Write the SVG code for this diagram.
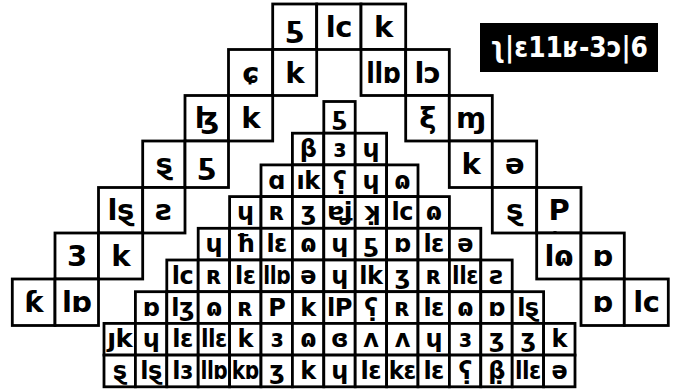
<svg xmlns="http://www.w3.org/2000/svg" width="684" height="391" viewBox="0 0 684 391">
<style>
.c{fill:#fff;stroke:#000;stroke-width:2.8}
.t{font-family:"DejaVu Sans",sans-serif;font-weight:bold;fill:#000;text-anchor:middle;dominant-baseline:central;letter-spacing:-0.5px}
.ttl{font-family:"DejaVu Sans",sans-serif;font-weight:bold;fill:#fff;dominant-baseline:central}
</style>
<rect width="684" height="391" fill="#fff"/>
<g id="title" font-size="28"><rect x="480" y="23" width="178" height="49" fill="#000"/><text class="ttl" x="490" y="47" textLength="158" lengthAdjust="spacingAndGlyphs">ʅ|ɛ11ʁ-3ɔ|6</text></g>
<g id="outer" font-size="29">
<g id="o0a"><rect class="c" x="272.7" y="4" width="44" height="45.5"/><text class="t" x="294.7" y="26.75">ƽ</text></g>
<g id="o0b"><rect class="c" x="316.7" y="4" width="44.3" height="45.5"/><text class="t" x="338.85" y="26.75">lc</text></g>
<g id="o0c"><rect class="c" x="361" y="4" width="44.7" height="45.5"/><text class="t" x="383.35" y="26.75">k</text></g>
<g id="o1a"><rect class="c" x="228.5" y="49.5" width="44.2" height="46"/><text class="t" x="250.6" y="72.5">ɕ</text></g>
<g id="o1b"><rect class="c" x="272.7" y="49.5" width="44" height="46"/><text class="t" x="294.7" y="72.5">k</text></g>
<g id="o1c"><rect class="c" x="361" y="49.5" width="44.7" height="46"/><text class="t" x="383.35" y="72.5" textLength="34" lengthAdjust="spacingAndGlyphs">llɒ</text></g>
<g id="o1d"><rect class="c" x="405.7" y="49.5" width="43.6" height="46"/><text class="t" x="427.5" y="72.5">lɔ</text></g>
<g id="o2a"><rect class="c" x="185" y="95.5" width="43.5" height="45.5"/><text class="t" x="206.75" y="118.25">ɮ</text></g>
<g id="o2b"><rect class="c" x="228.5" y="95.5" width="44.2" height="45.5"/><text class="t" x="250.6" y="118.25">k</text></g>
<g id="o2c"><rect class="c" x="405.7" y="95.5" width="43.6" height="45.5"/><text class="t" x="427.5" y="118.25">ξ</text></g>
<g id="o2d"><rect class="c" x="449.3" y="95.5" width="43" height="45.5"/><text class="t" x="470.8" y="118.25">ɱ</text></g>
<g id="o3a"><rect class="c" x="142.7" y="141" width="42.3" height="46.5"/><text class="t" x="163.85" y="164.25">ȿ</text></g>
<g id="o3b"><rect class="c" x="185" y="141" width="43.5" height="46.5"/><text class="t" x="206.75" y="164.25">ƽ</text></g>
<g id="o3c"><rect class="c" x="449.3" y="141" width="43" height="46.5"/><text class="t" x="470.8" y="164.25">k</text></g>
<g id="o3d"><rect class="c" x="492.3" y="141" width="44.4" height="46.5"/><text class="t" x="514.5" y="164.25">ə</text></g>
<g id="o4a"><rect class="c" x="98.5" y="187.5" width="44.2" height="45.5"/><text class="t" x="120.6" y="210.25">lȿ</text></g>
<g id="o4b"><rect class="c" x="142.7" y="187.5" width="42.3" height="45.5"/><text class="t" x="163.85" y="210.25">ƨ</text></g>
<g id="o4c"><rect class="c" x="492.3" y="187.5" width="44.4" height="45.5"/><text class="t" x="514.5" y="210.25">ȿ</text></g>
<g id="o4d"><rect class="c" x="536.7" y="187.5" width="44.3" height="45.5"/><text class="t" x="558.85" y="210.25">P</text><circle cx="555" cy="233.5" r="2.6" fill="#000"/></g>
<g id="o5a"><rect class="c" x="55" y="233" width="43.5" height="46"/><text class="t" x="76.75" y="256">3</text></g>
<g id="o5b"><rect class="c" x="98.5" y="233" width="44.2" height="46"/><text class="t" x="120.6" y="256">k</text></g>
<g id="o5c"><rect class="c" x="536.7" y="233" width="44.3" height="46"/><text class="t" x="558.85" y="256">lɷ</text></g>
<g id="o5d"><rect class="c" x="581" y="233" width="43.3" height="46"/><text class="t" x="602.65" y="256">ɒ</text></g>
<g id="o6a"><rect class="c" x="12.3" y="279" width="42.7" height="46.5"/><text class="t" x="33.65" y="302.25">ƙ</text></g>
<g id="o6b"><rect class="c" x="55" y="279" width="43.5" height="46.5"/><text class="t" x="76.75" y="302.25">lɒ</text></g>
<g id="o6c"><rect class="c" x="581" y="279" width="43.3" height="46.5"/><text class="t" x="602.65" y="302.25">ɒ</text></g>
<g id="o6d"><rect class="c" x="624.3" y="279" width="44" height="46.5"/><text class="t" x="646.3" y="302.25">lc</text></g>
</g>
<g id="inner" font-size="24">
<g id="r0c7"><rect class="c" x="323.8" y="101.5" width="31.4" height="31.7"/><text class="t" x="339.5" y="117.35">ƽ</text></g>
<g id="r1c6"><rect class="c" x="292.4" y="133.2" width="31.4" height="31.7"/><text class="t" x="308.1" y="149.05">β</text></g>
<g id="r1c7"><rect class="c" x="323.8" y="133.2" width="31.4" height="31.7"/><text class="t" x="339.5" y="149.05">ɜ</text></g>
<g id="r1c8"><rect class="c" x="355.2" y="133.2" width="31.4" height="31.7"/><text class="t" x="370.9" y="149.05">ɥ</text></g>
<g id="r2c5"><rect class="c" x="261" y="164.9" width="31.4" height="31.7"/><text class="t" x="276.7" y="180.75">ɑ</text></g>
<g id="r2c6"><rect class="c" x="292.4" y="164.9" width="31.4" height="31.7"/><text class="t" x="308.1" y="180.75">ık</text></g>
<g id="r2c7"><rect class="c" x="323.8" y="164.9" width="31.4" height="31.7"/><text class="t" x="339.5" y="180.75">ʕ̣</text></g>
<g id="r2c8"><rect class="c" x="355.2" y="164.9" width="31.4" height="31.7"/><text class="t" x="370.9" y="180.75">ɥ</text></g>
<g id="r2c9"><rect class="c" x="386.6" y="164.9" width="31.4" height="31.7"/><text class="t" x="402.3" y="180.75">ɷ</text></g>
<g id="r3c4"><rect class="c" x="229.6" y="196.6" width="31.4" height="31.7"/><text class="t" x="245.3" y="212.45">ɥ</text></g>
<g id="r3c5"><rect class="c" x="261" y="196.6" width="31.4" height="31.7"/><text class="t" x="276.7" y="212.45">ʀ</text></g>
<g id="r3c6"><rect class="c" x="292.4" y="196.6" width="31.4" height="31.7"/><text class="t" x="308.1" y="212.45">ʒ</text></g>
<g id="r3c7"><rect class="c" x="323.8" y="196.6" width="31.4" height="31.7"/><text class="t" x="339.5" y="212.45" textLength="25" lengthAdjust="spacingAndGlyphs">ɐʝ</text></g>
<g id="r3c8"><rect class="c" x="355.2" y="196.6" width="31.4" height="31.7"/><text class="t" x="370.9" y="212.45">ʞ̣</text></g>
<g id="r3c9"><rect class="c" x="386.6" y="196.6" width="31.4" height="31.7"/><text class="t" x="402.3" y="212.45">lc</text></g>
<g id="r3c10"><rect class="c" x="418" y="196.6" width="31.4" height="31.7"/><text class="t" x="433.7" y="212.45">ɷ</text></g>
<g id="r4c3"><rect class="c" x="198.2" y="228.3" width="31.4" height="31.7"/><text class="t" x="213.9" y="244.15">ɥ</text></g>
<g id="r4c4"><rect class="c" x="229.6" y="228.3" width="31.4" height="31.7"/><text class="t" x="245.3" y="244.15">ħ</text></g>
<g id="r4c5"><rect class="c" x="261" y="228.3" width="31.4" height="31.7"/><text class="t" x="276.7" y="244.15">lɛ</text></g>
<g id="r4c6"><rect class="c" x="292.4" y="228.3" width="31.4" height="31.7"/><text class="t" x="308.1" y="244.15">ɷ</text></g>
<g id="r4c7"><rect class="c" x="323.8" y="228.3" width="31.4" height="31.7"/><text class="t" x="339.5" y="244.15">ɥ</text></g>
<g id="r4c8"><rect class="c" x="355.2" y="228.3" width="31.4" height="31.7"/><text class="t" x="370.9" y="244.15">ƽ</text></g>
<g id="r4c9"><rect class="c" x="386.6" y="228.3" width="31.4" height="31.7"/><text class="t" x="402.3" y="244.15">ɒ</text></g>
<g id="r4c10"><rect class="c" x="418" y="228.3" width="31.4" height="31.7"/><text class="t" x="433.7" y="244.15">lɛ</text></g>
<g id="r4c11"><rect class="c" x="449.4" y="228.3" width="31.4" height="31.7"/><text class="t" x="465.1" y="244.15">ə</text></g>
<g id="r5c2"><rect class="c" x="166.8" y="260" width="31.4" height="31.7"/><text class="t" x="182.5" y="275.85">lc</text></g>
<g id="r5c3"><rect class="c" x="198.2" y="260" width="31.4" height="31.7"/><text class="t" x="213.9" y="275.85">ʀ</text></g>
<g id="r5c4"><rect class="c" x="229.6" y="260" width="31.4" height="31.7"/><text class="t" x="245.3" y="275.85">lɛ</text></g>
<g id="r5c5"><rect class="c" x="261" y="260" width="31.4" height="31.7"/><text class="t" x="276.7" y="275.85" textLength="27" lengthAdjust="spacingAndGlyphs">llɒ</text></g>
<g id="r5c6"><rect class="c" x="292.4" y="260" width="31.4" height="31.7"/><text class="t" x="308.1" y="275.85">ə</text></g>
<g id="r5c7"><rect class="c" x="323.8" y="260" width="31.4" height="31.7"/><text class="t" x="339.5" y="275.85">ɥ</text></g>
<g id="r5c8"><rect class="c" x="355.2" y="260" width="31.4" height="31.7"/><text class="t" x="370.9" y="275.85">lk</text></g>
<g id="r5c9"><rect class="c" x="386.6" y="260" width="31.4" height="31.7"/><text class="t" x="402.3" y="275.85">ʒ</text></g>
<g id="r5c10"><rect class="c" x="418" y="260" width="31.4" height="31.7"/><text class="t" x="433.7" y="275.85">ʀ</text></g>
<g id="r5c11"><rect class="c" x="449.4" y="260" width="31.4" height="31.7"/><text class="t" x="465.1" y="275.85" textLength="26" lengthAdjust="spacingAndGlyphs">llɛ</text></g>
<g id="r5c12"><rect class="c" x="480.8" y="260" width="31.4" height="31.7"/><text class="t" x="496.5" y="275.85">ƨ</text></g>
<g id="r6c1"><rect class="c" x="135.4" y="291.7" width="31.4" height="31.7"/><text class="t" x="151.1" y="307.55">ɒ</text></g>
<g id="r6c2"><rect class="c" x="166.8" y="291.7" width="31.4" height="31.7"/><text class="t" x="182.5" y="307.55">lʒ̣</text></g>
<g id="r6c3"><rect class="c" x="198.2" y="291.7" width="31.4" height="31.7"/><text class="t" x="213.9" y="307.55">ɷ</text></g>
<g id="r6c4"><rect class="c" x="229.6" y="291.7" width="31.4" height="31.7"/><text class="t" x="245.3" y="307.55">ʀ</text></g>
<g id="r6c5"><rect class="c" x="261" y="291.7" width="31.4" height="31.7"/><text class="t" x="276.7" y="307.55">P</text></g>
<g id="r6c6"><rect class="c" x="292.4" y="291.7" width="31.4" height="31.7"/><text class="t" x="308.1" y="307.55">k</text></g>
<g id="r6c7"><rect class="c" x="323.8" y="291.7" width="31.4" height="31.7"/><text class="t" x="339.5" y="307.55" textLength="25" lengthAdjust="spacingAndGlyphs">lP</text></g>
<g id="r6c8"><rect class="c" x="355.2" y="291.7" width="31.4" height="31.7"/><text class="t" x="370.9" y="307.55">ʕ̣</text></g>
<g id="r6c9"><rect class="c" x="386.6" y="291.7" width="31.4" height="31.7"/><text class="t" x="402.3" y="307.55">ʀ</text></g>
<g id="r6c10"><rect class="c" x="418" y="291.7" width="31.4" height="31.7"/><text class="t" x="433.7" y="307.55">lɛ</text></g>
<g id="r6c11"><rect class="c" x="449.4" y="291.7" width="31.4" height="31.7"/><text class="t" x="465.1" y="307.55">ɷ</text></g>
<g id="r6c12"><rect class="c" x="480.8" y="291.7" width="31.4" height="31.7"/><text class="t" x="496.5" y="307.55">ɒ</text></g>
<g id="r6c13"><rect class="c" x="512.2" y="291.7" width="31.4" height="31.7"/><text class="t" x="527.9" y="307.55">lȿ</text></g>
<g id="r7c0"><rect class="c" x="104" y="323.4" width="31.4" height="31.7"/><text class="t" x="119.7" y="339.25" textLength="25" lengthAdjust="spacingAndGlyphs">ȷk</text></g>
<g id="r7c1"><rect class="c" x="135.4" y="323.4" width="31.4" height="31.7"/><text class="t" x="151.1" y="339.25">ɥ</text></g>
<g id="r7c2"><rect class="c" x="166.8" y="323.4" width="31.4" height="31.7"/><text class="t" x="182.5" y="339.25">lɛ</text></g>
<g id="r7c3"><rect class="c" x="198.2" y="323.4" width="31.4" height="31.7"/><text class="t" x="213.9" y="339.25" textLength="26" lengthAdjust="spacingAndGlyphs">llɛ</text></g>
<g id="r7c4"><rect class="c" x="229.6" y="323.4" width="31.4" height="31.7"/><text class="t" x="245.3" y="339.25">k</text></g>
<g id="r7c5"><rect class="c" x="261" y="323.4" width="31.4" height="31.7"/><text class="t" x="276.7" y="339.25">ɜ</text></g>
<g id="r7c6"><rect class="c" x="292.4" y="323.4" width="31.4" height="31.7"/><text class="t" x="308.1" y="339.25">ɷ</text></g>
<g id="r7c7"><rect class="c" x="323.8" y="323.4" width="31.4" height="31.7"/><text class="t" x="339.5" y="339.25">ɞ</text></g>
<g id="r7c8"><rect class="c" x="355.2" y="323.4" width="31.4" height="31.7"/><text class="t" x="370.9" y="339.25">ʌ</text></g>
<g id="r7c9"><rect class="c" x="386.6" y="323.4" width="31.4" height="31.7"/><text class="t" x="402.3" y="339.25">ʌ</text></g>
<g id="r7c10"><rect class="c" x="418" y="323.4" width="31.4" height="31.7"/><text class="t" x="433.7" y="339.25">ɥ</text></g>
<g id="r7c11"><rect class="c" x="449.4" y="323.4" width="31.4" height="31.7"/><text class="t" x="465.1" y="339.25">ɜ</text></g>
<g id="r7c12"><rect class="c" x="480.8" y="323.4" width="31.4" height="31.7"/><text class="t" x="496.5" y="339.25">ʒ</text></g>
<g id="r7c13"><rect class="c" x="512.2" y="323.4" width="31.4" height="31.7"/><text class="t" x="527.9" y="339.25">ʒ</text></g>
<g id="r7c14"><rect class="c" x="543.6" y="323.4" width="31.4" height="31.7"/><text class="t" x="559.3" y="339.25">k</text></g>
<g id="r8c0"><rect class="c" x="104" y="355.1" width="31.4" height="31.7"/><text class="t" x="119.7" y="370.95">ȿ</text></g>
<g id="r8c1"><rect class="c" x="135.4" y="355.1" width="31.4" height="31.7"/><text class="t" x="151.1" y="370.95">lȿ</text></g>
<g id="r8c2"><rect class="c" x="166.8" y="355.1" width="31.4" height="31.7"/><text class="t" x="182.5" y="370.95">lɜ</text></g>
<g id="r8c3"><rect class="c" x="198.2" y="355.1" width="31.4" height="31.7"/><text class="t" x="213.9" y="370.95" textLength="27" lengthAdjust="spacingAndGlyphs">llɒ</text></g>
<g id="r8c4"><rect class="c" x="229.6" y="355.1" width="31.4" height="31.7"/><text class="t" x="245.3" y="370.95" textLength="27" lengthAdjust="spacingAndGlyphs">kɒ</text></g>
<g id="r8c5"><rect class="c" x="261" y="355.1" width="31.4" height="31.7"/><text class="t" x="276.7" y="370.95">ʒ</text></g>
<g id="r8c6"><rect class="c" x="292.4" y="355.1" width="31.4" height="31.7"/><text class="t" x="308.1" y="370.95">k</text></g>
<g id="r8c7"><rect class="c" x="323.8" y="355.1" width="31.4" height="31.7"/><text class="t" x="339.5" y="370.95">ɥ</text></g>
<g id="r8c8"><rect class="c" x="355.2" y="355.1" width="31.4" height="31.7"/><text class="t" x="370.9" y="370.95">lɛ</text></g>
<g id="r8c9"><rect class="c" x="386.6" y="355.1" width="31.4" height="31.7"/><text class="t" x="402.3" y="370.95" textLength="27" lengthAdjust="spacingAndGlyphs">kɛ</text></g>
<g id="r8c10"><rect class="c" x="418" y="355.1" width="31.4" height="31.7"/><text class="t" x="433.7" y="370.95">lɛ</text></g>
<g id="r8c11"><rect class="c" x="449.4" y="355.1" width="31.4" height="31.7"/><text class="t" x="465.1" y="370.95">ʕ̣</text></g>
<g id="r8c12"><rect class="c" x="480.8" y="355.1" width="31.4" height="31.7"/><text class="t" x="496.5" y="370.95">β̣</text></g>
<g id="r8c13"><rect class="c" x="512.2" y="355.1" width="31.4" height="31.7"/><text class="t" x="527.9" y="370.95" textLength="26" lengthAdjust="spacingAndGlyphs">llɛ</text></g>
<g id="r8c14"><rect class="c" x="543.6" y="355.1" width="31.4" height="31.7"/><text class="t" x="559.3" y="370.95">ə</text></g>
</g>
</svg>
